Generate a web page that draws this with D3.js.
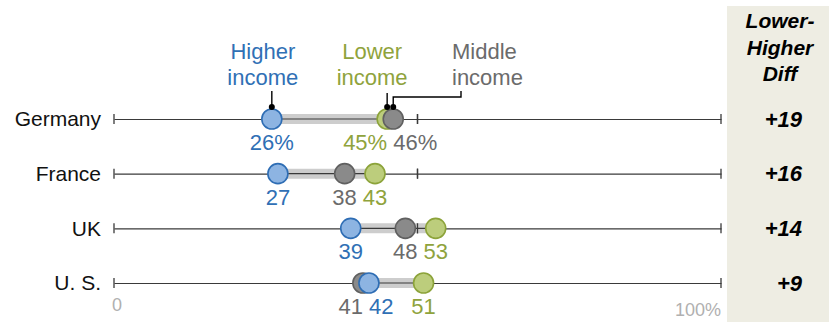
<!DOCTYPE html>
<html>
<head>
<meta charset="utf-8">
<script src="https://cdn.jsdelivr.net/npm/d3@7/dist/d3.min.js"></script>
<style>
  html, body { margin: 0; padding: 0; background: #fff; }
  svg { display: block; font-family: "Liberation Sans", Arial, sans-serif; }
</style>
</head>
<body>
<svg id="chart" width="829" height="322"></svg>
<script>
// Share by income group, per country (percent)
const countries = ["Germany", "France", "UK", "U. S."];
const higherIncome = [26, 27, 39, 42];
const middleIncome = [46, 38, 48, 41];
const lowerIncome  = [45, 43, 53, 51];
const axisTicks = [0, 50, 100];
const axisLabels = ["0", "100%"];

const W = 829, H = 322;
const svg = d3.select("#chart");

const x = d3.scaleLinear().domain([0, 100]).range([114, 721]);
const y = d3.scalePoint().domain(countries).range([119, 283]);

const colors = {
  higher: { fill: "#8db4e2", stroke: "#2e6db4", text: "#3070b5" },
  middle: { fill: "#8a8a8a", stroke: "#606060", text: "#6b6b6b" },
  lower:  { fill: "#bccd7c", stroke: "#8ca33a", text: "#8fa33c" }
};

const rows = countries.map((c, i) => ({
  country: c,
  higher: higherIncome[i],
  middle: middleIncome[i],
  lower: lowerIncome[i],
  diff: lowerIncome[i] - higherIncome[i]
}));

// Diff column panel
svg.append("rect")
  .attr("x", 727).attr("y", 6)
  .attr("width", W - 727).attr("height", H - 6)
  .attr("fill", "#eeede3");

const header = svg.append("text")
  .attr("text-anchor", "middle")
  .attr("font-weight", "bold").attr("font-style", "italic")
  .attr("font-size", 21).attr("fill", "#000");
["Lower-", "Higher", "Diff"].forEach((t, i) => {
  header.append("tspan").attr("x", 780).attr("y", 28 + i * 26.5).text(t);
});

// Axis line per country
const axisG = svg.append("g");
rows.forEach(r => {
  const g = axisG.append("g").attr("transform", `translate(0,${y(r.country)})`);
  g.call(d3.axisBottom(x).tickValues(axisTicks).tickSize(0).tickFormat(""))
    .call(s => s.select(".domain").attr("stroke", "#3a3a3a").attr("stroke-width", 1.2));
  g.selectAll(".tickmark").data(axisTicks).join("line")
    .attr("x1", d => x(d)).attr("x2", d => x(d))
    .attr("y1", -5).attr("y2", 5)
    .attr("stroke", "#3a3a3a").attr("stroke-width", 1.3);
});

// Range bar between min and max
svg.append("g").selectAll("line").data(rows).join("line")
  .attr("x1", d => x(Math.min(d.higher, d.middle, d.lower)))
  .attr("x2", d => x(Math.max(d.higher, d.middle, d.lower)))
  .attr("y1", d => y(d.country)).attr("y2", d => y(d.country))
  .attr("stroke", "#cdcdcd").attr("stroke-width", 10);

// Thin axis back over the bar
rows.forEach(r => {
  svg.append("line")
    .attr("x1", x(Math.min(r.higher, r.middle, r.lower)))
    .attr("x2", x(Math.max(r.higher, r.middle, r.lower)))
    .attr("y1", y(r.country)).attr("y2", y(r.country))
    .attr("stroke", "#3a3a3a").attr("stroke-width", 1.2);
  svg.append("line")
    .attr("x1", x(50)).attr("x2", x(50))
    .attr("y1", y(r.country) - 5).attr("y2", y(r.country) + 5)
    .attr("stroke", "#3a3a3a").attr("stroke-width", 1.3);
});

// Dots: lower, then middle, then higher on top
const order = ["lower", "middle", "higher"];
order.forEach(k => {
  svg.append("g").selectAll("circle").data(rows).join("circle")
    .attr("cx", d => x(d[k])).attr("cy", d => y(d.country))
    .attr("r", 10)
    .attr("fill", colors[k].fill)
    .attr("stroke", colors[k].stroke).attr("stroke-width", 1.6);
});

// Country names
svg.append("g").selectAll("text").data(rows).join("text")
  .attr("x", 101).attr("y", d => y(d.country))
  .attr("dy", "0.35em").attr("text-anchor", "end")
  .attr("font-size", 21).attr("fill", "#111")
  .text(d => d.country);

// Value labels under dots, pushed apart when they collide
rows.forEach((r, i) => {
  const items = ["higher", "middle", "lower"].map(k => ({
    key: k, v: r[k], cx: x(r[k]),
    text: i === 0 ? r[k] + "%" : String(r[k])
  }));
  const labels = svg.append("g").selectAll("text").data(items).join("text")
    .attr("y", y(r.country) + 31)
    .attr("text-anchor", "middle")
    .attr("font-size", 22)
    .attr("fill", d => colors[d.key].text)
    .text(d => d.text);
  labels.each(function (d) { d.w = this.getComputedTextLength(); });
  const sorted = items.slice().sort((a, b) => a.v - b.v);
  const gap = 6;
  for (let it = 0; it < 50; it++) {
    for (let j = 0; j < sorted.length - 1; j++) {
      const a = sorted[j], b = sorted[j + 1];
      const need = (a.w + b.w) / 2 + gap;
      const have = b.cx - a.cx;
      if (have < need) {
        const push = (need - have) / 2;
        a.cx -= push; b.cx += push;
      }
    }
  }
  labels.attr("x", d => d.cx);
});

// Diff values
svg.append("g").selectAll("text").data(rows).join("text")
  .attr("x", 802).attr("y", d => y(d.country))
  .attr("dy", "0.35em").attr("text-anchor", "end")
  .attr("font-size", 22).attr("font-weight", "bold").attr("font-style", "italic")
  .attr("fill", "#000")
  .text(d => "+" + d.diff);

// Scale end labels
svg.append("text").attr("x", x(0) + 3).attr("y", 311)
  .attr("text-anchor", "middle").attr("font-size", 18).attr("fill", "#b0b0b0")
  .text(axisLabels[0]);
svg.append("text").attr("x", x(100)).attr("y", 316)
  .attr("text-anchor", "end").attr("font-size", 18).attr("fill", "#b0b0b0")
  .text(axisLabels[1]);

// Key: annotations on the first row
const first = rows[0];
const rowY = y(first.country);
const legend = svg.append("g").attr("font-size", 22);

function twoLine(cx, anchor, lines, color) {
  const t = legend.append("text").attr("text-anchor", anchor).attr("fill", color);
  lines.forEach((s, i) => t.append("tspan").attr("x", cx).attr("y", 59 + i * 25.5).text(s));
}
twoLine(x(first.higher) - 9, "middle", ["Higher", "income"], colors.higher.text);
twoLine(x(first.lower) - 15, "middle", ["Lower", "income"], colors.lower.text);
twoLine(452, "start", ["Middle", "income"], colors.middle.text);

const lead = legend.append("g").attr("stroke", "#000").attr("stroke-width", 1.4).attr("fill", "none");
const dotY = rowY - 12;
lead.append("line").attr("x1", x(first.higher)).attr("x2", x(first.higher)).attr("y1", 91).attr("y2", dotY);
lead.append("line").attr("x1", x(first.lower)).attr("x2", x(first.lower)).attr("y1", 93).attr("y2", dotY);
lead.append("path").attr("d", `M461,91 V97 H${x(first.middle)} V${dotY}`);
[first.higher, first.lower, first.middle].forEach(v => {
  legend.append("circle").attr("cx", x(v)).attr("cy", dotY).attr("r", 3).attr("fill", "#000");
});
</script>
</body>
</html>
